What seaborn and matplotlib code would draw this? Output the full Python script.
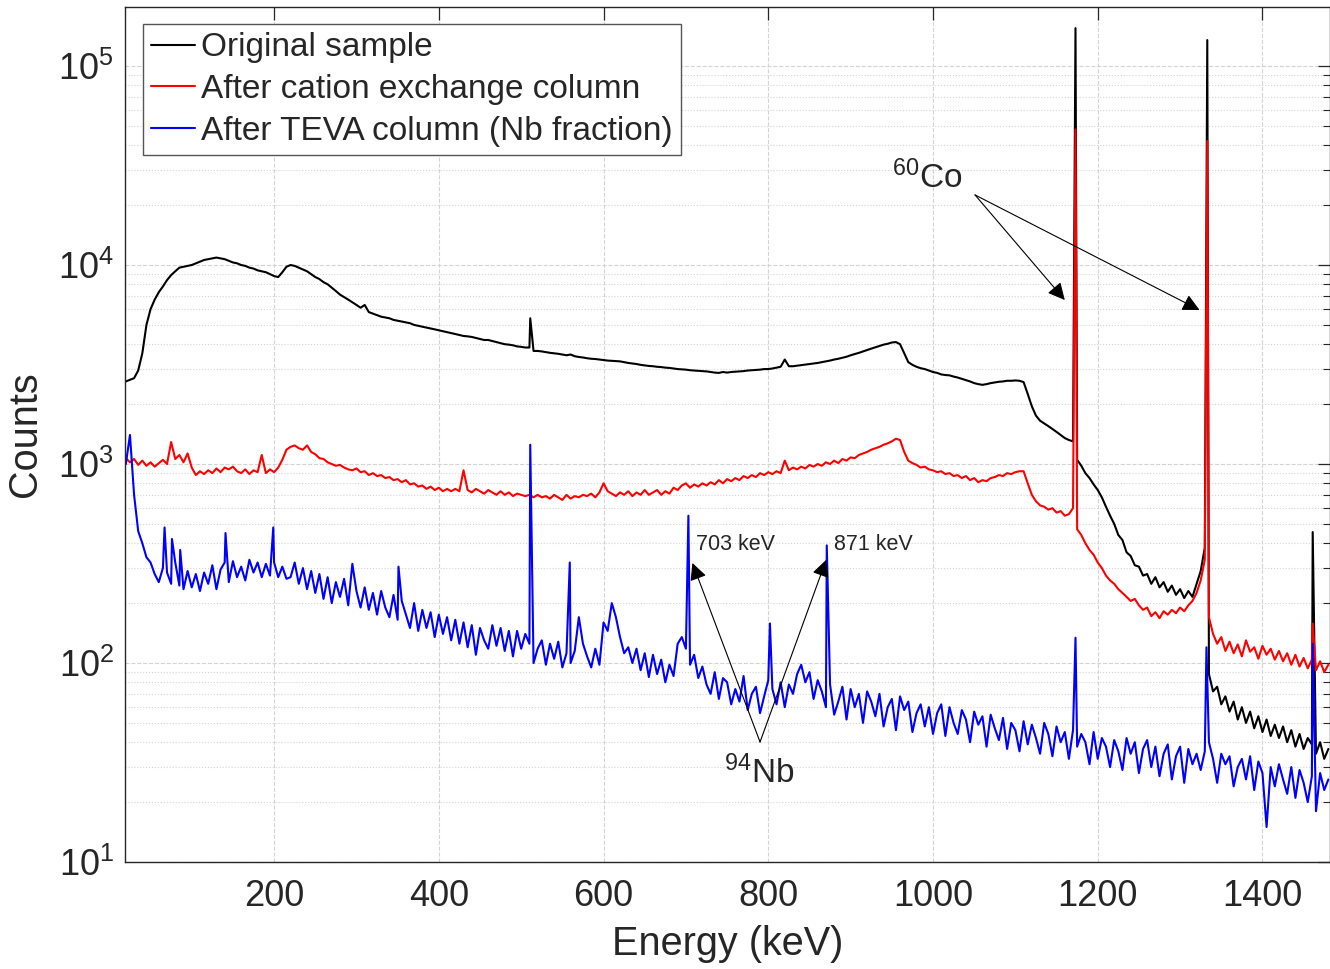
import numpy as np
import pandas as pd
import matplotlib
matplotlib.use("Agg")
import matplotlib.pyplot as plt
import seaborn as sns

# ---------------- data ----------------
# spectrum channel grid, 5 keV steps from 20 to 1480 keV
energy_grid = np.arange(20, 1481, 5)

black_counts = (
    [2600, 2650, 2700, 2950, 3600, 5000, 6000, 6700, 7300, 7800, 8400, 8900, 9300, 9700, 9800, 9900, 10000, 10200, 10400, 10600]
    + [10700, 10800, 10900, 10800, 10700, 10500, 10300, 10200, 10000, 9900, 9700, 9600, 9400, 9300, 9200, 9000, 8800, 8700, 9200, 9800]
    + [10000, 9900, 9700, 9500, 9300, 9000, 8700, 8500, 8200, 8000, 7700, 7400, 7100, 6900, 6700, 6500, 6300, 6100, 6300, 5800]
    + [5700, 5600, 5500, 5450, 5400, 5300, 5250, 5200, 5150, 5100, 5000, 4950, 4900, 4850, 4800, 4750, 4700, 4650, 4600, 4550]
    + [4500, 4450, 4400, 4380, 4350, 4300, 4250, 4200, 4200, 4150, 4100, 4050, 4000, 3980, 3950, 3900, 3880, 3850, 3850, 3700]
    + [3700, 3680, 3650, 3620, 3600, 3580, 3550, 3520, 3550, 3480, 3450, 3430, 3400, 3380, 3370, 3350, 3330, 3310, 3300, 3290]
    + [3280, 3250, 3220, 3200, 3180, 3150, 3130, 3110, 3100, 3080, 3070, 3050, 3040, 3020, 3000, 2990, 2980, 2960, 2950, 2940]
    + [2930, 2920, 2900, 2880, 2870, 2900, 2880, 2900, 2910, 2920, 2930, 2950, 2960, 2970, 2980, 3000, 3000, 3020, 3050, 3080]
    + [3350, 3100, 3100, 3120, 3140, 3160, 3180, 3200, 3220, 3250, 3280, 3310, 3350, 3380, 3420, 3460, 3520, 3570, 3620, 3680]
    + [3740, 3800, 3860, 3920, 3980, 4020, 4080, 4100, 4000, 3600, 3250, 3150, 3080, 3030, 3000, 2950, 2900, 2870, 2820, 2800]
    + [2790, 2750, 2720, 2680, 2640, 2600, 2550, 2520, 2500, 2520, 2550, 2570, 2590, 2600, 2620, 2620, 2630, 2620, 2580, 2250]
    + [1950, 1750, 1650, 1600, 1550, 1500, 1450, 1400, 1350, 1320, 1300, 1050, 980, 900, 850, 790, 740, 680, 610, 550]
    + [500, 440, 415, 360, 345, 310, 305, 275, 280, 250, 270, 240, 255, 228, 245, 220, 235, 212, 230, 215]
    + [250, 290, 380, 88, 72, 76, 62, 68, 57, 64, 52, 60, 50, 57, 47, 54, 45, 52, 43, 49]
    + [42, 48, 40, 46, 38, 44, 37, 42, 39, 35, 40, 33, 37]
)
black_peak_energy = [511, 1173, 1333, 1461]
black_peak_counts = [5400, 155000, 135000, 455]

red_counts = (
    [1070, 1020, 1060, 990, 1040, 980, 1020, 970, 1010, 1050, 1000, 1290, 1060, 1110, 1020, 1130, 960, 880, 920, 890]
    + [930, 900, 950, 910, 960, 940, 970, 920, 900, 940, 890, 930, 910, 1110, 900, 940, 910, 960, 1050, 1180]
    + [1220, 1240, 1200, 1180, 1240, 1150, 1120, 1070, 1060, 1020, 1000, 980, 990, 960, 940, 930, 950, 910, 920, 880]
    + [900, 870, 880, 850, 860, 830, 840, 810, 830, 790, 800, 770, 780, 750, 770, 740, 760, 730, 750, 730]
    + [750, 730, 930, 740, 720, 750, 730, 710, 740, 720, 700, 730, 700, 720, 690, 710, 700, 690, 700, 680]
    + [700, 680, 690, 670, 700, 680, 660, 700, 670, 690, 680, 700, 690, 710, 680, 720, 800, 730, 710, 690]
    + [720, 700, 730, 690, 720, 700, 740, 700, 720, 740, 700, 730, 710, 760, 740, 780, 800, 760, 790, 770]
    + [800, 780, 810, 790, 830, 800, 840, 820, 850, 830, 870, 850, 880, 860, 900, 880, 910, 890, 920, 900]
    + [1040, 930, 960, 940, 970, 950, 990, 970, 1000, 980, 1020, 1000, 1040, 1010, 1060, 1040, 1080, 1070, 1110, 1130]
    + [1150, 1180, 1200, 1220, 1250, 1270, 1300, 1340, 1320, 1150, 1040, 1010, 990, 960, 970, 940, 930, 910, 920, 890]
    + [900, 870, 880, 850, 870, 830, 850, 810, 830, 820, 850, 860, 880, 870, 900, 890, 910, 920, 920, 800]
    + [700, 650, 620, 610, 590, 600, 570, 580, 550, 560, 600, 470, 440, 400, 370, 350, 320, 300, 275, 260]
    + [250, 235, 225, 215, 205, 210, 195, 185, 190, 172, 180, 168, 182, 175, 185, 178, 190, 182, 195, 205]
    + [225, 260, 330, 170, 140, 125, 135, 115, 128, 112, 124, 108, 130, 114, 120, 105, 122, 110, 118, 104]
    + [115, 102, 112, 98, 110, 96, 106, 94, 104, 92, 102, 90, 98]
)
red_peak_energy = [1173, 1333, 1461]
red_peak_counts = [48000, 42000, 158]

blue_counts = (
    [1000, 1400, 700, 460, 400, 340, 320, 280, 255, 300, 285, 250, 320, 245, 235, 290, 240, 280, 230, 285]
    + [250, 310, 235, 295, 320, 255, 325, 270, 305, 260, 330, 285, 320, 270, 315, 275, 320, 270, 305, 265]
    + [270, 320, 250, 300, 235, 290, 225, 280, 210, 270, 200, 255, 215, 265, 195, 315, 230, 190, 240, 185]
    + [225, 175, 230, 190, 170, 220, 165, 205, 175, 150, 200, 145, 185, 150, 180, 135, 175, 140, 170, 130]
    + [165, 125, 160, 120, 155, 110, 150, 130, 118, 155, 122, 150, 115, 145, 108, 145, 118, 140, 125, 100]
    + [118, 130, 98, 125, 105, 128, 95, 112, 100, 115, 170, 125, 108, 95, 118, 98, 160, 145, 200, 170]
    + [135, 112, 120, 100, 118, 92, 112, 85, 110, 88, 104, 80, 98, 86, 125, 135, 118, 98, 110, 84]
    + [96, 78, 70, 90, 66, 84, 80, 62, 74, 64, 86, 58, 70, 76, 56, 68, 82, 74, 62, 80]
    + [60, 78, 70, 88, 98, 80, 90, 66, 82, 72, 60, 78, 55, 64, 76, 52, 74, 60, 70, 50]
    + [72, 64, 54, 70, 48, 60, 66, 46, 68, 58, 64, 45, 56, 62, 48, 60, 44, 56, 62, 43]
    + [60, 50, 44, 58, 52, 40, 57, 49, 54, 38, 55, 47, 41, 53, 37, 50, 46, 36, 51, 39]
    + [49, 42, 35, 50, 44, 34, 48, 40, 45, 33, 46, 38, 44, 40, 31, 45, 33, 42, 38, 30]
    + [41, 36, 29, 42, 35, 40, 28, 37, 41, 30, 38, 27, 35, 39, 26, 34, 38, 25, 37, 31]
    + [35, 29, 36, 40, 33, 25, 35, 31, 34, 24, 30, 33, 26, 34, 23, 32, 28, 15, 30, 24]
    + [31, 26, 22, 30, 21, 29, 25, 20, 27, 18, 28, 23, 26]
)
blue_peak_energy = [67, 76, 86, 141, 199, 351, 511, 559, 703, 802, 871, 1173, 1332, 1461]
blue_peak_counts = [480, 420, 370, 450, 480, 305, 1250, 320, 550, 158, 390, 134, 120, 125]

series_names = ["Original sample", "After cation exchange column", "After TEVA column (Nb fraction)"]
series_colors = ["#000000", "#ff0000", "#0000ff"]

# ---------------- assemble ----------------
frames = []
for name, counts, pe, pc in [
    (series_names[0], black_counts, black_peak_energy, black_peak_counts),
    (series_names[1], red_counts, red_peak_energy, red_peak_counts),
    (series_names[2], blue_counts, blue_peak_energy, blue_peak_counts),
]:
    assert len(counts) == len(energy_grid), (name, len(counts), len(energy_grid))
    e = np.concatenate([energy_grid, pe]).astype(float)
    c = np.concatenate([counts, pc]).astype(float)
    order = np.argsort(e, kind="stable")
    frames.append(pd.DataFrame({"Energy": e[order], "Counts": c[order], "Series": name}))
df = pd.concat(frames, ignore_index=True)

# ---------------- style ----------------
sns.set_style("white")
plt.rcParams["font.family"] = ["Liberation Sans", "DejaVu Sans"]
plt.rcParams["mathtext.fontset"] = "custom"
plt.rcParams["mathtext.rm"] = "Liberation Sans"
plt.rcParams["mathtext.it"] = "Liberation Sans:italic"
plt.rcParams["mathtext.bf"] = "Liberation Sans:bold"

fig = plt.figure(figsize=(13.3, 9.69), dpi=100)
ax = fig.add_axes([0.094, 0.1104, 0.906, 0.8824])

sns.lineplot(data=df, x="Energy", y="Counts", hue="Series", hue_order=series_names,
             palette=series_colors, estimator=None, sort=False, lw=1.5, ax=ax)

ax.set_yscale("log")
ax.set_xlim(19, 1482)
ax.set_ylim(10, 1.98e5)
ax.set_xticks([200, 400, 600, 800, 1000, 1200, 1400])

ax.grid(True, which="major", axis="both", ls="--", color="#d4d4d4", lw=0.8)
ax.grid(True, which="minor", axis="y", ls=":", color="#d4d4d4", lw=0.8)
ax.set_axisbelow(True)

for s in ax.spines.values():
    s.set_color("#262626")
    s.set_linewidth(1.0)
    s.set_visible(True)

ax.tick_params(which="major", direction="in", length=9, width=0.9, top=True, right=True,
               labelsize=26, colors="#262626")
ax.tick_params(which="minor", direction="in", length=5, width=0.8, top=False, right=True)
ax.tick_params(axis="x", which="major", pad=12)
ax.tick_params(axis="y", which="major", pad=8)

ax.set_xlabel("Energy (keV)", fontsize=28.5, color="#262626", labelpad=8)
ax.set_ylabel("Counts", fontsize=28.5, color="#262626", labelpad=10)

handles, labels = ax.get_legend_handles_labels()
leg = ax.legend(handles, labels, loc="upper left", bbox_to_anchor=(0.0149, 0.980),
                borderaxespad=0, fontsize=24, frameon=True, fancybox=False,
                handlelength=1.3, handletextpad=0.2, borderpad=0.25, labelspacing=0.32)
leg.get_frame().set_edgecolor("#555555")
leg.get_frame().set_linewidth(1.0)
leg.get_frame().set_alpha(1.0)

# ---------------- annotations ----------------
arrow_kw = dict(arrowstyle="-|>", color="black", lw=0.8, mutation_scale=26,
                shrinkA=0, shrinkB=0)
co_start = (1051, 22500)
ax.annotate("", xy=(1160, 6670), xytext=co_start, arrowprops=arrow_kw)
ax.annotate("", xy=(1323.6, 5940), xytext=co_start, arrowprops=arrow_kw)
ax.text(950, 24400, r"$^{60}$Co", fontsize=24, ha="left", va="baseline")

nb_start = (790, 40.1)
ax.annotate("", xy=(707.9, 318), xytext=nb_start, arrowprops=arrow_kw)
ax.annotate("", xy=(870.3, 330), xytext=nb_start, arrowprops=arrow_kw)
ax.text(746.7, 24.9, r"$^{94}$Nb", fontsize=24, ha="left", va="baseline")

ax.text(712.7, 396, "703 keV", fontsize=15.5, ha="left", va="center")
ax.text(880, 396, "871 keV", fontsize=15.5, ha="left", va="center")

fig.savefig("out.png", dpi=100)
